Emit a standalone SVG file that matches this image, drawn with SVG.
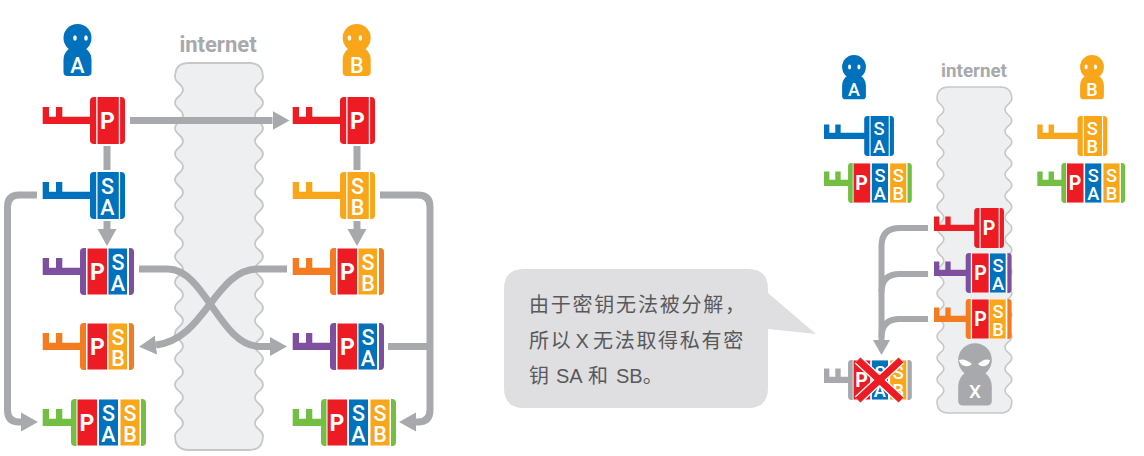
<svg xmlns="http://www.w3.org/2000/svg" width="1144" height="456" viewBox="0 0 1144 456">
<style>
.red{color:#ed1c24}.blue{color:#0071bc}.amber{color:#faa61a}.orange{color:#f47b20}.purple{color:#7f4f9f}.green{color:#72bf44}.grey{color:#a7a9ac}
.pr{fill:#ed1c24}.pb{fill:#0071bc}.pa{fill:#faa61a}
text{font-family:Roboto,"Liberation Sans",sans-serif;font-weight:500;fill:#fff;text-anchor:middle}
.l1{font-size:23px;font-weight:700}.l2{font-size:21.500px}
.net{fill:#a7a9ac;font-weight:700}
.cloud{fill:#eeeff1;stroke:#c6c7c9;stroke-width:1.800}
.c{fill:none;stroke:#a7a9ac;stroke-width:7}
.cs{fill:none;stroke:#a7a9ac;stroke-width:6}
text.say{font-family:"Liberation Sans","Noto Sans CJK SC",sans-serif;font-weight:400;fill:#58595b;text-anchor:start;font-size:20px}
.sp{letter-spacing:1.700px}
</style>
<defs>
<marker id="ah" markerUnits="userSpaceOnUse" markerWidth="17" markerHeight="20" refX="0" refY="10" orient="auto" viewBox="0 0 17 20"><path d="M0,0.500L17,10L0,19.500Z" fill="#a7a9ac"/></marker>
<marker id="as" markerUnits="userSpaceOnUse" markerWidth="15" markerHeight="17" refX="0" refY="8.500" orient="auto" viewBox="0 0 15 17"><path d="M0,0L15,8.500L0,17Z" fill="#a7a9ac"/></marker>
<path id="cloud" d="M14,0H74Q88,0 88,14c0,6.410 -8,6.410 -8,12.820c0,6.410 8,6.410 8,12.820c0,6.410 -8,6.410 -8,12.820c0,6.410 8,6.410 8,12.820c0,6.410 -8,6.410 -8,12.820c0,6.410 8,6.410 8,12.820c0,6.410 -8,6.410 -8,12.820c0,6.410 8,6.410 8,12.820c0,6.410 -8,6.410 -8,12.820c0,6.410 8,6.410 8,12.820c0,6.410 -8,6.410 -8,12.820c0,6.410 8,6.410 8,12.820c0,6.410 -8,6.410 -8,12.820c0,6.410 8,6.410 8,12.820c0,6.410 -8,6.410 -8,12.820c0,6.410 8,6.410 8,12.820c0,6.410 -8,6.410 -8,12.820c0,6.410 8,6.410 8,12.820c0,6.410 -8,6.410 -8,12.820c0,6.410 8,6.410 8,12.820c0,6.410 -8,6.410 -8,12.820c0,6.410 8,6.410 8,12.820c0,6.410 -8,6.410 -8,12.820c0,6.410 8,6.410 8,12.820c0,6.410 -8,6.410 -8,12.820c0,6.410 8,6.410 8,12.820c0,6.410 -8,6.410 -8,12.820c0,6.410 8,6.410 8,12.820Q88,387 74,387H14Q0,387 0,373c0,-6.410 8,-6.410 8,-12.820c0,-6.410 -8,-6.410 -8,-12.820c0,-6.410 8,-6.410 8,-12.820c0,-6.410 -8,-6.410 -8,-12.820c0,-6.410 8,-6.410 8,-12.820c0,-6.410 -8,-6.410 -8,-12.820c0,-6.410 8,-6.410 8,-12.820c0,-6.410 -8,-6.410 -8,-12.820c0,-6.410 8,-6.410 8,-12.820c0,-6.410 -8,-6.410 -8,-12.820c0,-6.410 8,-6.410 8,-12.820c0,-6.410 -8,-6.410 -8,-12.820c0,-6.410 8,-6.410 8,-12.820c0,-6.410 -8,-6.410 -8,-12.820c0,-6.410 8,-6.410 8,-12.820c0,-6.410 -8,-6.410 -8,-12.820c0,-6.410 8,-6.410 8,-12.820c0,-6.410 -8,-6.410 -8,-12.820c0,-6.410 8,-6.410 8,-12.820c0,-6.410 -8,-6.410 -8,-12.820c0,-6.410 8,-6.410 8,-12.820c0,-6.410 -8,-6.410 -8,-12.820c0,-6.410 8,-6.410 8,-12.820c0,-6.410 -8,-6.410 -8,-12.820c0,-6.410 8,-6.410 8,-12.820c0,-6.410 -8,-6.410 -8,-12.820c0,-6.410 8,-6.410 8,-12.820c0,-6.410 -8,-6.410 -8,-12.820Q0,0 14,0Z"/>
<g id="person"><circle r="14"/><path d="M-14,34V22A14,14 0 0 1 14,22V34Q14,38 10,38H-10Q-14,38 -14,34Z"/></g>
<g id="eyes"><ellipse cx="-2.500" cy="0" rx="1.800" ry="2.800" fill="#fff"/><ellipse cx="8.500" cy="0" rx="1.800" ry="2.800" fill="#fff"/></g>
<g id="k1" fill="currentColor"><path d="M0,10H6.300V19.700H13.300V10H19.600V19.700H50V27H0Z"/><rect x="47.300" width="35" height="47" rx="4"/><path d="M53.500,0h1.300v47h-1.300zM76.100,0h1.300v47h-1.300z" fill="#fff"/></g>
<g id="k2" fill="currentColor"><path d="M0,10H6.300V19.700H13.300V10H19.600V19.700H40V27H0Z"/><rect x="37.300" width="54" height="47" rx="4"/><rect x="43.300" width="43" height="47" fill="#fff"/><rect class="pr" x="44.800" y=".5" width="19.500" height="46"/></g>
<g id="k3" fill="currentColor"><path d="M0,10H6.300V19.700H13.300V10H19.600V19.700H30V27H0Z"/><rect x="28.300" width="75" height="47" rx="4"/><rect x="33.800" width="64.500" height="47" fill="#fff"/><rect class="pr" x="34.800" y=".5" width="19.500" height="46"/><rect class="pb" x="56.300" y=".5" width="19" height="46"/><rect class="pa" x="77.800" y=".5" width="19" height="46"/></g>
</defs>

<g id="internet-left"><use href="#cloud" class="cloud" transform="translate(175,63)"/><text class="net" x="218" y="52" style="font-size:22px">internet</text></g>
<g id="internet-right"><use href="#cloud" class="cloud" transform="translate(937,87) scale(.85,.8424)"/><text class="net" x="974" y="77" style="font-size:18.800px">internet</text></g>

<g id="connectors">
<path class="c" d="M130,120.500H272.500" marker-end="url(#ah)"/>
<path class="c" d="M107,146V170"/>
<path class="c" d="M107,221V229" marker-end="url(#ah)"/>
<path class="c" d="M37,195H19Q7.500,195 7.500,207V410Q7.500,422 19,422H21" marker-end="url(#ah)"/>
<path class="c" d="M357,146V170"/>
<path class="c" d="M357,221V229" marker-end="url(#ah)"/>
<path class="c" d="M380,195H418Q430,195 430,207V410Q430,422 418,422H416" marker-end="url(#ah)"/>
<path class="c" d="M388,346.500H430"/>
<path class="c" d="M139,269H168C205,269 220,346.500 260,346.500H270" marker-end="url(#ah)"/>
<path class="c" d="M287,269H258C215,269 205,340 156,345" marker-end="url(#ah)"/>
<path class="cs" d="M928,228H900Q881.500,228 881.500,246V340" marker-end="url(#as)"/>
<path class="cs" d="M928,274H900Q881.500,274 881.500,292"/>
<path class="cs" d="M928,319H900Q881.500,319 881.500,337"/>
</g>

<g id="person-a" fill="#0071bc"><use href="#person" transform="translate(77.500,38)"/><use href="#eyes" transform="translate(77.500,38)"/><text class="l2" x="77.500" y="72.500">A</text></g>
<g id="person-b" fill="#faa61a"><use href="#person" transform="translate(356.700,38)"/><use href="#eyes" transform="translate(351.900,38)"/><text class="l2" x="356.700" y="72.500">B</text></g>
<g id="person-a2" fill="#0071bc"><use href="#person" transform="translate(854,67) scale(.85)"/><use href="#eyes" transform="translate(851.700,67) scale(.85)"/><text x="854" y="96" style="font-size:18px">A</text></g>
<g id="person-b2" fill="#faa61a"><use href="#person" transform="translate(1092,67) scale(.85)"/><use href="#eyes" transform="translate(1088.200,67) scale(.85)"/><text x="1092" y="96" style="font-size:18px">B</text></g>
<g id="person-x" fill="#a7a9ac"><use href="#person" transform="translate(975,360) scale(1.200)"/><path d="M959,360Q965,358 972,364Q969,367 965,366Q960,365 959,360ZM990,360Q984,358 978,364Q981,367 985,366Q989,365 990,360Z" fill="#fff"/><text x="975" y="398" style="font-size:19px">X</text></g>

<g id="key-a-p" class="red" transform="translate(42.700,97)"><use href="#k1"/><text class="l1" x="64.800" y="32">P</text></g>
<g id="key-a-sa" class="blue" transform="translate(42.700,172)"><use href="#k1"/><text class="l2"><tspan x="64.800" y="22">S</tspan><tspan x="64.800" y="43">A</tspan></text></g>
<g id="key-a-psa" class="purple" transform="translate(42.700,248)"><use href="#k2"/><rect class="pb" x="65.800" y=".5" width="18.500" height="46"/><text class="l1" x="54.800" y="32">P</text><text class="l2"><tspan x="75.300" y="22">S</tspan><tspan x="75.300" y="43">A</tspan></text></g>
<g id="key-a-psb" class="orange" transform="translate(42.700,323)"><use href="#k2"/><rect class="pa" x="65.800" y=".5" width="18.500" height="46"/><text class="l1" x="54.800" y="32">P</text><text class="l2"><tspan x="75.300" y="22">S</tspan><tspan x="75.300" y="43">B</tspan></text></g>
<g id="key-a-psab" class="green" transform="translate(42.700,399)"><use href="#k3"/><text class="l1" x="44.300" y="32">P</text><text class="l2"><tspan x="65.800" y="22">S</tspan><tspan x="65.800" y="43">A</tspan></text><text class="l2"><tspan x="87.300" y="22">S</tspan><tspan x="87.300" y="43">B</tspan></text></g>

<g id="key-b-p" class="red" transform="translate(292.700,97)"><use href="#k1"/><text class="l1" x="64.800" y="32">P</text></g>
<g id="key-b-sb" class="amber" transform="translate(292.700,172)"><use href="#k1"/><text class="l2"><tspan x="64.800" y="22">S</tspan><tspan x="64.800" y="43">B</tspan></text></g>
<g id="key-b-psb" class="orange" transform="translate(292.700,248)"><use href="#k2"/><rect class="pa" x="65.800" y=".5" width="18.500" height="46"/><text class="l1" x="54.800" y="32">P</text><text class="l2"><tspan x="75.300" y="22">S</tspan><tspan x="75.300" y="43">B</tspan></text></g>
<g id="key-b-psa" class="purple" transform="translate(292.700,323)"><use href="#k2"/><rect class="pb" x="65.800" y=".5" width="18.500" height="46"/><text class="l1" x="54.800" y="32">P</text><text class="l2"><tspan x="75.300" y="22">S</tspan><tspan x="75.300" y="43">A</tspan></text></g>
<g id="key-b-psab" class="green" transform="translate(292.700,399)"><use href="#k3"/><text class="l1" x="44.300" y="32">P</text><text class="l2"><tspan x="65.800" y="22">S</tspan><tspan x="65.800" y="43">A</tspan></text><text class="l2"><tspan x="87.300" y="22">S</tspan><tspan x="87.300" y="43">B</tspan></text></g>

<g id="key2-a-sa" class="blue" transform="translate(824,116) scale(.85)"><use href="#k1"/><text class="l2"><tspan x="64.800" y="22">S</tspan><tspan x="64.800" y="43">A</tspan></text></g>
<g id="key2-a-psab" class="green" transform="translate(824,163) scale(.85)"><use href="#k3"/><text class="l1" x="44.300" y="32">P</text><text class="l2"><tspan x="65.800" y="22">S</tspan><tspan x="65.800" y="43">A</tspan></text><text class="l2"><tspan x="87.300" y="22">S</tspan><tspan x="87.300" y="43">B</tspan></text></g>
<g id="key2-b-sb" class="amber" transform="translate(1037.300,116) scale(.85)"><use href="#k1"/><text class="l2"><tspan x="64.800" y="22">S</tspan><tspan x="64.800" y="43">B</tspan></text></g>
<g id="key2-b-psab" class="green" transform="translate(1037.300,163) scale(.85)"><use href="#k3"/><text class="l1" x="44.300" y="32">P</text><text class="l2"><tspan x="65.800" y="22">S</tspan><tspan x="65.800" y="43">A</tspan></text><text class="l2"><tspan x="87.300" y="22">S</tspan><tspan x="87.300" y="43">B</tspan></text></g>
<g id="key2-x-p" class="red" transform="translate(934,208) scale(.85)"><use href="#k1"/><text class="l1" x="64.800" y="32">P</text></g>
<g id="key2-x-psa" class="purple" transform="translate(934,253) scale(.85)"><use href="#k2"/><rect class="pb" x="65.800" y=".5" width="18.500" height="46"/><text class="l1" x="54.800" y="32">P</text><text class="l2"><tspan x="75.300" y="22">S</tspan><tspan x="75.300" y="43">A</tspan></text></g>
<g id="key2-x-psb" class="orange" transform="translate(934,299) scale(.85)"><use href="#k2"/><rect class="pa" x="65.800" y=".5" width="18.500" height="46"/><text class="l1" x="54.800" y="32">P</text><text class="l2"><tspan x="75.300" y="22">S</tspan><tspan x="75.300" y="43">B</tspan></text></g>
<g id="key2-failed" class="grey" transform="translate(824,360) scale(.85)"><use href="#k3"/><text class="l1" x="44.300" y="32">P</text><text class="l2"><tspan x="65.800" y="22">S</tspan><tspan x="65.800" y="43">A</tspan></text><text class="l2"><tspan x="87.300" y="22">S</tspan><tspan x="87.300" y="43">B</tspan></text></g>
<g id="cross"><path d="M858,360L901,400M901,360L858,400" fill="none" stroke="#fff" stroke-width="9.500"/><path d="M858,360L901,400M901,360L858,400" fill="none" stroke="#ed1c24" stroke-width="7"/></g>

<g id="callout"><path d="M524,269H748Q768,269 768,289V293L816,334L768,329V388Q768,408 748,408H524Q504,408 504,388V289Q504,269 524,269Z" fill="#dfdfe1"/>
<text class="say" x="529" y="312" textLength="216" lengthAdjust="spacing">由于密钥无法被分解，</text>
<text class="say" y="348"><tspan class="sp" x="529">所以</tspan> <tspan x="575.500">X</tspan> <tspan class="sp" x="593">无法取得私有密</tspan></text>
<text class="say" y="383"><tspan x="529">钥</tspan> <tspan x="556">SA</tspan> <tspan x="588">和</tspan> <tspan x="616">SB。</tspan></text></g>
</svg>
